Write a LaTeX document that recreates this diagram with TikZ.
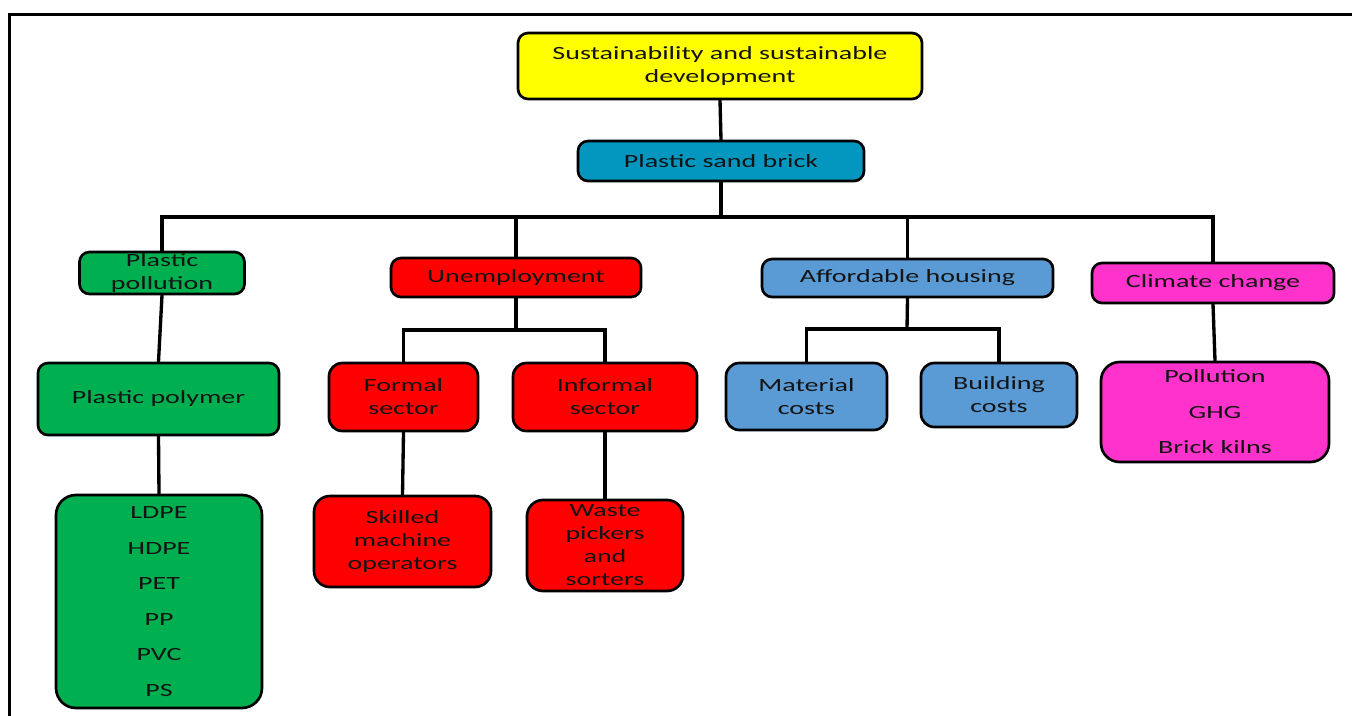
\documentclass[tikz,border=0pt]{standalone}
\usepackage{fontspec}
\setmainfont[FakeStretch=1.5]{Carlito}
\definecolor{cYellow}{HTML}{FFFF00}
\definecolor{cTeal}{HTML}{0396BF}
\definecolor{cGreen}{HTML}{00B050}
\definecolor{cRed}{HTML}{FF0000}
\definecolor{cLBlue}{HTML}{5B9BD5}
\definecolor{cPink}{HTML}{FF33CC}
\definecolor{cText}{HTML}{141414}
\begin{document}
\begin{tikzpicture}[x=0.75pt,y=-0.75pt,
  box/.style={draw=black, line width=2pt, rounded corners=7.5pt, inner sep=0pt, align=center,
    text=cText, font=\fontsize{14}{17.25}\selectfont},
  listbox/.style={box, rounded corners=15pt, font=\fontsize{14}{26.6}\selectfont},
  conn/.style={line width=2.5pt, line cap=rect},
  thickconn/.style={line width=3.5pt}]
\useasboundingbox (0,0) rectangle (1352,715);
\draw[line width=2.25pt] (9,730) -- (9,14) -- (1370,14);
% nodes
\node[box, fill=cYellow, minimum width=303pt, minimum height=49.5pt] (top) at (720,66) {Sustainability and sustainable\\development};
\node[box, fill=cTeal, minimum width=214.5pt, minimum height=30pt] (brick) at (721,161) {Plastic sand brick};
\node[box, fill=cGreen, minimum width=123.75pt, minimum height=31.5pt] (pp) at (162,273) {Plastic\\pollution};
\node[box, fill=cRed, minimum width=187.5pt, minimum height=29.25pt] (unemp) at (516,277.5) {Unemployment};
\node[box, fill=cLBlue, minimum width=218.25pt, minimum height=28.5pt] (afford) at (907.5,278) {Affordable housing};
\node[box, fill=cPink, minimum width=181.5pt, minimum height=30pt] (climate) at (1213,283) {Climate change};
\node[box, fill=cGreen, minimum width=180.75pt, minimum height=54pt] (polymer) at (158.5,399) {Plastic polymer};
\node[listbox, fill=cGreen, minimum width=154.5pt, minimum height=159.75pt] (list) at (159,601.5) {LDPE\\HDPE\\PET\\PP\\PVC\\PS};
\node[box, fill=cRed, minimum width=111.75pt, minimum height=51pt, rounded corners=10pt] (formal) at (403.5,397) {Formal\\sector};
\node[box, fill=cRed, minimum width=138pt, minimum height=51pt, rounded corners=10pt] (informal) at (605,397) {Informal\\sector};
\node[box, fill=cRed, minimum width=132.75pt, minimum height=68.25pt, rounded corners=12pt] (skilled) at (402.5,541.5) {Skilled\\machine\\operators};
\node[box, fill=cRed, minimum width=117pt, minimum height=68.25pt, rounded corners=12pt] (waste) at (605,545.5) {Waste\\pickers\\and\\sorters};
\node[box, fill=cLBlue, minimum width=120.75pt, minimum height=50.25pt, rounded corners=10pt] (material) at (806.5,396.5) {Material\\costs};
\node[box, fill=cLBlue, minimum width=117pt, minimum height=48pt, rounded corners=10pt] (building) at (999,395) {Building\\costs};
\node[listbox, fill=cPink, minimum width=171pt, minimum height=75pt, rounded corners=14pt] (pollution) at (1215,412) {Pollution\\GHG\\Brick kilns};
% coordinates for buses
\coordinate (busY) at (720,217);
\coordinate (uY) at (516,330);
\coordinate (aY) at (907,329);
% connectors
\draw[conn] (top.south) -- (brick.north);
\draw[thickconn] (brick.south) -- (brick.south |- busY);
\draw[conn] (pp.north) -- (pp.north |- busY) -- (climate.north |- busY) -- (climate.north);
\draw[conn] (unemp.north) -- (unemp.north |- busY);
\draw[conn] (afford.north) -- (afford.north |- busY);
\draw[conn] (pp.south) -- (polymer.north);
\draw[conn] (polymer.south) -- (list.north);
\draw[thickconn] (unemp.south) -- (uY);
\draw[conn] (formal.north) -- (formal.north |- uY) -- (informal.north |- uY) -- (informal.north);
\draw[conn] (formal.south) -- (skilled.north);
\draw[conn] (informal.south) -- (waste.north);
\draw[conn] (afford.south) -- (aY);
\draw[conn] (material.north) -- (material.north |- aY) -- (building.north |- aY) -- (building.north);
\draw[conn] (climate.south) -- (pollution.north);
\end{tikzpicture}
\end{document}
